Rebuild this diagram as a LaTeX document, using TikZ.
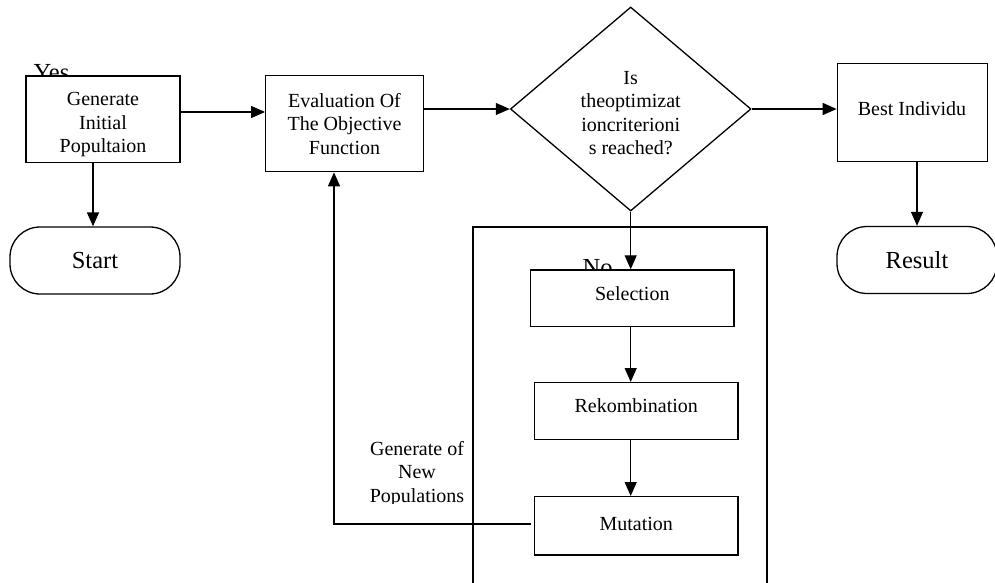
\documentclass[tikz,border=0pt]{standalone}
\usepackage{fontspec}
\setmainfont{Liberation Serif}
\usetikzlibrary{shapes.geometric,arrows.meta,calc}
\begin{document}
\begin{tikzpicture}[x=1pt,y=-1pt,
  line width=1.3pt,
  every node/.style={font=\fontsize{20}{23.5}\selectfont},
  box/.style={draw,fill=white,align=center,inner sep=2pt},
  lbl/.style={align=center,inner sep=0pt},
  term/.style={draw,fill=white,rounded corners=30pt,font=\fontsize{24.5}{28}\selectfont},
  big/.style={font=\fontsize{24.5}{28}\selectfont,inner sep=0pt},
  arr/.style={-{Triangle[length=14pt,width=12pt]}}
]
\clip (0,0) rectangle (995,583);
\fill[white] (0,0) rectangle (995,583);

% texts partly hidden behind boxes
\node[big,anchor=base west] (yes) at (33,81) {Yes};
\node[big,anchor=base west] (no) at (582,275) {No};

% big container
\draw (473,600) -- (473,227) -- (767,227) -- (767,600);

\node[box,minimum width=154pt,minimum height=86.7pt] (gen) at (103,119.3) {};
\node[lbl] (genl) at (103,125) {Generate\\Initial\\Popultaion};
\node[box,minimum width=157.6pt,minimum height=96pt] (eval) at (344.5,123.7) {Evaluation Of\\The Objective\\Function};
\node[draw,fill=white,diamond,inner sep=0pt,minimum width=240.6pt,minimum height=204pt] (dec) at (630.7,109) {};
\node[lbl] (decl) at (630.7,113) {Is\\theoptimizat\\ioncriterioni\\s reached?};
\node[box,minimum width=150pt,minimum height=98.4pt] (best) at (912.3,112.5) {};
\node[lbl] (bestl) at (912,109) {Best Individu};
\node[term,minimum width=170pt,minimum height=67pt] (start) at (95,260.5) {Start};
\node[term,minimum width=160pt,minimum height=67pt] (result) at (917,260) {Result};

\node[box,minimum width=203.3pt,minimum height=56.7pt] (sel) at (632.3,298.3) {};
\node[lbl] (sell) at (632.3,294) {Selection};
\node[box,minimum width=203.3pt,minimum height=56.7pt] (rek) at (636.3,411) {};
\node[lbl] (rekl) at (636.3,406) {Rekombination};
\node[box,minimum width=203.3pt,minimum height=58.3pt] (mut) at (636.3,525.8) {};
\node[lbl] (mutl) at (636.3,524) {Mutation};

\begin{scope}
\clip (340,430) rectangle (470,503);
\node[lbl] (gentxt) at (417,474) {Generate of\\New\\Populations};
\end{scope}

% connectors
\coordinate (ya) at (0,112);
\draw[arr] (gen.east |- ya) -- (eval.west |- ya);
\draw[arr] (dec.west -| eval.east) -- (dec.west);
\draw[arr] (dec.east) -- (best.west |- dec.east);
\draw[arr] (gen.south -| 93,0) -- (start.north -| 93,0);
\draw[arr] (best.south -| result.north) -- (result.north);
\draw[arr] (dec.south) -- (sel.north -| dec.south);
\draw[arr] (sel.south -| dec.south) -- (rek.north -| dec.south);
\draw[arr] (rek.south -| dec.south) -- (mut.north -| dec.south);
\coordinate (lp) at (334,524);
\draw[arr] ([xshift=-3pt]mut.west |- lp) -- (lp) -- (eval.south -| lp);
\end{tikzpicture}
\end{document}
